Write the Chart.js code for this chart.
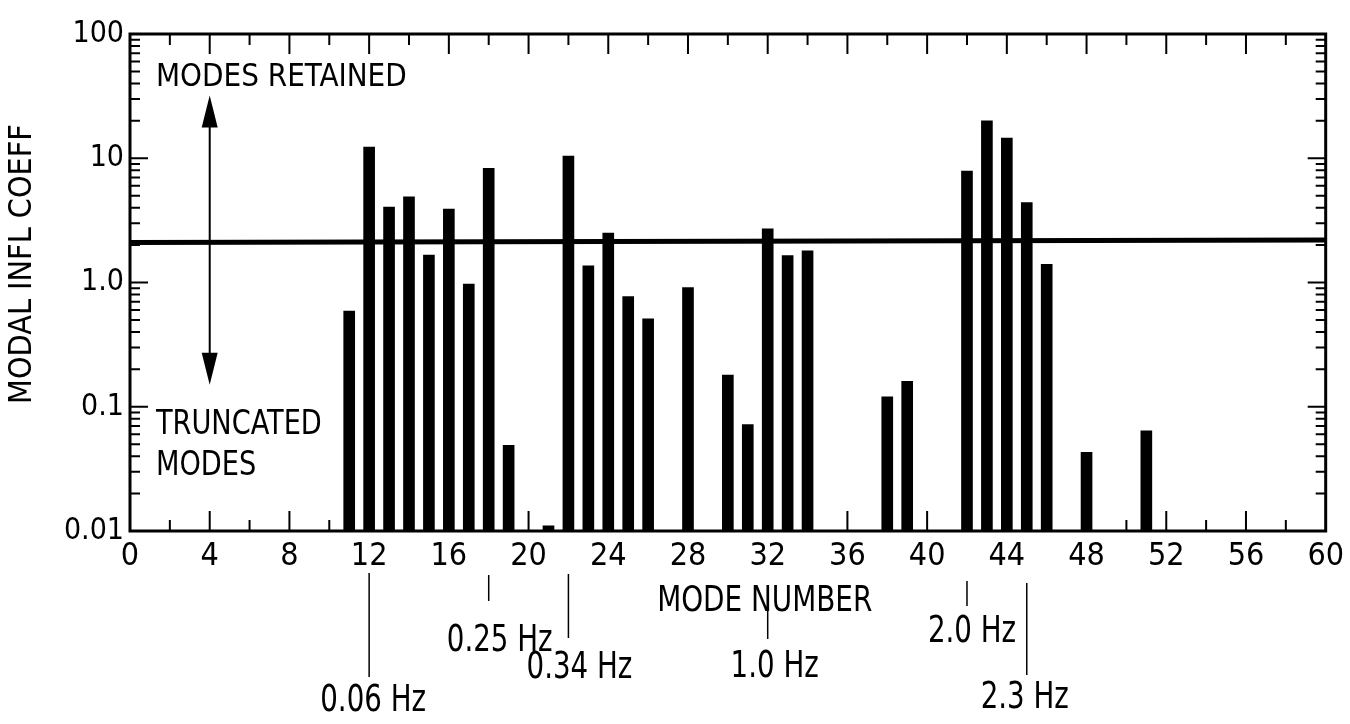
<!DOCTYPE html>
<html>
<head>
<meta charset="utf-8">
<script src="https://cdn.jsdelivr.net/npm/chart.js@4.4.1/dist/chart.umd.min.js"></script>
<style>
  html, body { margin: 0; padding: 0; background: #fff; }
  canvas { display: block; }
</style>
</head>
<body>
<canvas id="chart_modes" width="1350" height="724"></canvas>
<script>
// mode number / modal influence coefficient
var modeNumbers = [11, 12, 13, 14, 15, 16, 17, 18, 19, 21, 22, 23, 24, 25, 26, 28,
                   30, 31, 32, 33, 34, 38, 39, 42, 43, 44, 45, 46, 48, 51];
var modalCoeff  = [0.59, 12.3, 4.05, 4.9, 1.66, 3.9, 0.97, 8.3, 0.049, 0.011, 10.4, 1.36, 2.5, 0.77, 0.51, 0.91,
                   0.18, 0.072, 2.7, 1.65, 1.8, 0.12, 0.16, 7.9, 20, 14.5, 4.4, 1.4, 0.043, 0.064];

// truncation threshold
var cutoffX = [0, 60];
var cutoffY = [2.1, 2.2];

var yTickValues = [0.01, 0.1, 1, 10, 100];
var yTickLabels = ['0.01', '0.1', '1.0', '10', '100'];

// frequency markers under the axis
var hzModes  = [12, 18, 22, 32, 42, 45];
var hzLabels = ['0.06 Hz', '0.25 Hz', '0.34 Hz', '1.0 Hz', '2.0 Hz', '2.3 Hz'];

const FONT = "'Liberation Sans Narrow', 'DejaVu Sans Condensed', 'Arial Narrow', sans-serif";

// line top / line bottom / text baseline (px below axis), text shift (px)
const hzLayout = [
    {top: 42, bot: 146, base: 180, dx: 4},
    {top: 44, bot: 70,  base: 120, dx: 11},
    {top: 43, bot: 107, base: 147, dx: 11},
    {top: 80, bot: 108, base: 146, dx: 7},
    {top: 50, bot: 75,  base: 111, dx: 5},
    {top: 52, bot: 144, base: 177, dx: -2}
];

function arrowHead(ctx, x, tipY, dir) {
    ctx.beginPath();
    ctx.moveTo(x, tipY);
    ctx.lineTo(x - 8, tipY + dir * 32);
    ctx.lineTo(x + 8, tipY + dir * 32);
    ctx.closePath();
    ctx.fill();
}

// narrow lettering like the original typesetting
function narrowText(ctx, text, x, y, sx) {
    ctx.save();
    ctx.translate(x, y);
    ctx.scale(sx, 1);
    ctx.fillText(text, 0, 0);
    ctx.restore();
}

const frameAndNotes = {
    id: 'frameAndNotes',
    afterDraw(chart) {
        const ctx = chart.ctx;
        const xs = chart.scales.x;
        const ys = chart.scales.y;
        const a = chart.chartArea;
        ctx.save();
        ctx.strokeStyle = '#000';
        ctx.fillStyle = '#000';

        // box
        ctx.lineWidth = 3;
        ctx.strokeRect(a.left, a.top, a.right - a.left, a.bottom - a.top);

        // inward ticks
        ctx.lineWidth = 2;
        ctx.beginPath();
        for (let m = 2; m < 60; m += 2) {
            const px = xs.getPixelForValue(m);
            const len = m % 4 === 0 ? 20 : 11;
            ctx.moveTo(px, a.bottom); ctx.lineTo(px, a.bottom - len);
            ctx.moveTo(px, a.top);    ctx.lineTo(px, a.top + len);
        }
        for (let d = -2; d < 2; d++) {
            for (let k = 1; k < 10; k++) {
                if (d === -2 && k === 1) continue;
                const py = ys.getPixelForValue(k * Math.pow(10, d));
                const len = k === 1 ? 18 : 10;
                ctx.moveTo(a.left, py);  ctx.lineTo(a.left + len, py);
                ctx.moveTo(a.right, py); ctx.lineTo(a.right - len, py);
            }
        }
        ctx.stroke();

        // double arrow
        const ax = xs.getPixelForValue(4);
        const yTop = ys.getPixelForValue(32);
        const yBot = ys.getPixelForValue(0.15);
        ctx.beginPath();
        ctx.moveTo(ax, yTop + 20);
        ctx.lineTo(ax, yBot - 20);
        ctx.stroke();
        arrowHead(ctx, ax, yTop, 1);
        arrowHead(ctx, ax, yBot, -1);

        // region labels
        ctx.textAlign = 'left';
        ctx.textBaseline = 'alphabetic';
        ctx.font = '32px ' + FONT;
        narrowText(ctx, 'MODES RETAINED', xs.getPixelForValue(1.3), ys.getPixelForValue(38), 0.97);
        ctx.font = '34px ' + FONT;
        narrowText(ctx, 'TRUNCATED', xs.getPixelForValue(1.3), ys.getPixelForValue(0.06), 0.89);
        narrowText(ctx, 'MODES', xs.getPixelForValue(1.3), ys.getPixelForValue(0.028), 0.89);

        // x title
        ctx.textAlign = 'center';
        ctx.font = '36px ' + FONT;
        narrowText(ctx, 'MODE NUMBER', xs.getPixelForValue(31.85), a.bottom + 80, 0.86);

        // frequency markers
        ctx.font = '38px ' + FONT;
        ctx.lineWidth = 1.5;
        hzModes.forEach((m, i) => {
            const px = xs.getPixelForValue(m);
            const L = hzLayout[i];
            ctx.beginPath();
            ctx.moveTo(px, a.bottom + L.top);
            ctx.lineTo(px, a.bottom + L.bot);
            ctx.stroke();
            narrowText(ctx, hzLabels[i], px + L.dx, a.bottom + L.base, 0.81);
        });

        // y title
        ctx.font = '32px ' + FONT;
        ctx.translate(23, a.top + 230);
        ctx.rotate(-Math.PI / 2);
        ctx.textBaseline = 'middle';
        ctx.fillText('MODAL INFL COEFF', 0, 0);
        ctx.restore();
    }
};

var ctx_modes = document.getElementById('chart_modes').getContext('2d');

var chart_modes = new Chart(ctx_modes, {
    type: 'bar',
    data: {
        datasets: [{
            type: 'line',
            label: 'threshold',
            data: cutoffX.map((x, i) => ({x: x, y: cutoffY[i]})),
            borderColor: '#000',
            borderWidth: 5,
            pointRadius: 0,
            order: 0
        }, {
            type: 'bar',
            label: 'modal influence coefficient',
            data: modeNumbers.map((m, i) => ({x: m, y: modalCoeff[i]})),
            backgroundColor: '#000',
            borderWidth: 0,
            barThickness: 11,
            order: 1
        }]
    },
    options: {
        responsive: false,
        animation: false,
        devicePixelRatio: 1,
        layout: { padding: { top: 34, right: 21, left: 0, bottom: 0 } },
        plugins: { legend: { display: false }, tooltip: { enabled: false } },
        scales: {
            x: {
                type: 'linear',
                min: 0,
                max: 60,
                offset: false,
                grid: { display: false, drawTicks: false },
                border: { display: false },
                ticks: {
                    stepSize: 4,
                    autoSkip: false,
                    maxRotation: 0,
                    padding: 6,
                    color: '#000',
                    font: { family: FONT, size: 32 }
                },
                afterFit: scale => { scale.height = 193; }
            },
            y: {
                type: 'logarithmic',
                min: 0.01,
                max: 100,
                grid: { display: false, drawTicks: false },
                border: { display: false },
                afterBuildTicks: scale => {
                    scale.ticks = yTickValues.map(v => ({value: v}));
                },
                ticks: {
                    autoSkip: false,
                    padding: 6,
                    color: '#000',
                    font: { family: FONT, size: 30 },
                    callback: (value) => {
                        var i = yTickValues.findIndex(v => Math.abs(v - value) < v * 1e-6);
                        return i >= 0 ? yTickLabels[i] : '';
                    }
                },
                afterFit: scale => { scale.width = 130; }
            }
        }
    },
    plugins: [frameAndNotes]
});
</script>
</body>
</html>
